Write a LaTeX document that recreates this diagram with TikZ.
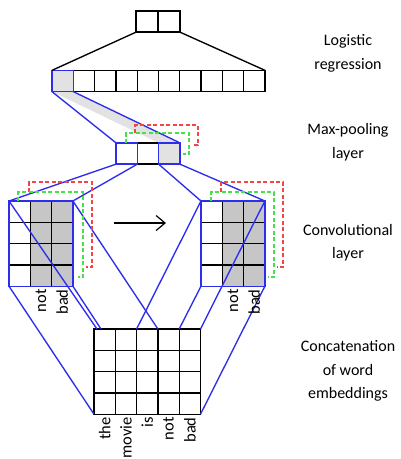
\documentclass[tikz,border=0pt]{standalone}
\usepackage{fontspec}
\setmainfont{Carlito}
\usetikzlibrary{arrows.meta,backgrounds}
\definecolor{linkblue}{RGB}{45,45,235}
\definecolor{cellgray}{RGB}{198,198,198}
\definecolor{bandgray}{RGB}{226,226,226}
\definecolor{redbr}{RGB}{240,70,70}
\definecolor{greenbr}{RGB}{70,225,70}
\tikzset{
  cell/.style={draw, line width=1.35pt, minimum size=21.3pt, inner sep=0pt, outer sep=0pt},
  convbox/.style={draw=linkblue, line width=1.35pt, minimum width=63.9pt, minimum height=85.2pt, inner sep=0pt, outer sep=0pt},
  link/.style={draw=linkblue, line width=1.35pt},
  bracket/.style={dash pattern=on 4pt off 2.5pt, line width=1.3pt},
  word/.style={rotate=90, anchor=east, inner sep=3pt, font=\fontsize{16.5}{18}\selectfont},
  layername/.style={align=center, font=\fontsize{16}{23.5}\selectfont}
}
\begin{document}
\begin{tikzpicture}[x=1pt, y=-1pt]
\useasboundingbox (0,0) rectangle (401,459);

\foreach \i in {1,2} \node[cell, minimum width=22pt] (out\i) at ({136+22*(\i-0.5)},21.5) {};
\foreach \i in {2,...,10} \node[cell] (lr\i) at ({52+21.3*(\i-0.5)},81) {};
\node[cell, draw=linkblue, fill=bandgray] (lr1) at (62.65,81) {};

\node[cell] (mp2) at (147.95,153.5) {};
\node[cell, draw=linkblue] (mp1) at (126.65,153.5) {};
\node[cell, draw=linkblue, fill=bandgray] (mp3) at (169.25,153.5) {};

\foreach \r in {1,...,4} {
  \node[cell] (cl-\r-1) at (19.65,{201+21.3*(\r-0.5)}) {};
  \foreach \c in {2,3} \node[cell, fill=cellgray] (cl-\r-\c) at ({9+21.3*(\c-0.5)},{201+21.3*(\r-0.5)}) {};
  \node[cell] (cr-\r-1) at (211.65,{201+21.3*(\r-0.5)}) {};
  \foreach \c in {2,3} \node[cell, fill=cellgray] (cr-\r-\c) at ({201+21.3*(\c-0.5)},{201+21.3*(\r-0.5)}) {};
  \foreach \c in {1,...,5} \node[cell] (em-\r-\c) at ({94+21.3*(\c-0.5)},{329+21.3*(\r-0.5)}) {};
}
\node[convbox] (convL) at (40.95,243.6) {};
\node[convbox] (convR) at (232.95,243.6) {};

\begin{scope}[on background layer]
\fill[bandgray] (lr1.south west) -- (lr1.south east) -- (mp3.north east) -- (mp3.north west) -- cycle;
\end{scope}

\draw[line width=1.35pt] (out1.south west) -- (lr1.north west);
\draw[line width=1.35pt] (out2.south east) -- (lr10.north east);

\draw[link] (lr1.south west) -- (mp1.north west);
\draw[link] (lr1.south east) -- (mp3.north east);
\draw[link] (mp1.south west) -- (convL.north west);
\draw[link] (mp1.south east) -- (convL.north east);
\draw[link] (mp3.south west) -- (convR.north west);
\draw[link] (mp3.south east) -- (convR.north east);

\draw[link] (convL.south west) -- (em-4-1.south west);
\draw[link] (convL.north west) -- ([xshift=3pt]em-1-1.north west);
\draw[link] (convL.south east) -- ([xshift=7pt]em-1-1.north west);
\draw[link] (convL.north east) -- (em-1-4.north west);
\draw[link] (convR.north west) -- (em-1-3.north west);
\draw[link] (convR.north east) -- (em-1-5.north east);
\draw[link] (convR.south west) -- (em-1-5.north west);
\draw[link] (convR.south east) -- (em-4-5.south east);

\draw[bracket, redbr] (135,133) -- (135,125) -- (198,125) -- (198,145) -- (192,145);
\draw[bracket, greenbr] (126,143) -- (126,133) -- (189,133) -- (189,154) -- (183,154);
\draw[bracket, redbr] (29,192) -- (29,182) -- (92,182) -- (92,267) -- (86,267);
\draw[bracket, greenbr] (18,201) -- (18,192) -- (83,192) -- (83,277) -- (78,277);
\draw[bracket, redbr] (221,192) -- (221,182) -- (283,182) -- (283,267) -- (277,267);
\draw[bracket, greenbr] (211,201) -- (211,192) -- (274,192) -- (274,277) -- (268,277);

\coordinate (shiftstart) at (114,223);
\coordinate (shiftend) at (166,223);
\draw[line width=1.2pt, -{Straight Barb[length=9pt, width=15pt]}] (shiftstart) -- (shiftend);

\node[word] (lnot) at (cl-4-2.south) {not};
\node[word] (lbad) at (cl-4-3.south) {bad};
\node[word] (rnot) at (cr-4-2.south) {not};
\node[word] (rbad) at (cr-4-3.south) {bad};
\foreach \w [count=\c] in {the,movie,is,not,bad} \node[word] (w\c) at (em-4-\c.south) {\w};

\node[layername] (namelr) at (348,53.5) {Logistic\\regression};
\node[layername] (namemp) at (348,142) {Max-pooling\\layer};
\node[layername] (nameconv) at (348,242.5) {Convolutional\\layer};
\node[layername] (nameemb) at (348,371) {Concatenation\\of word\\embeddings};
\end{tikzpicture}
\end{document}
